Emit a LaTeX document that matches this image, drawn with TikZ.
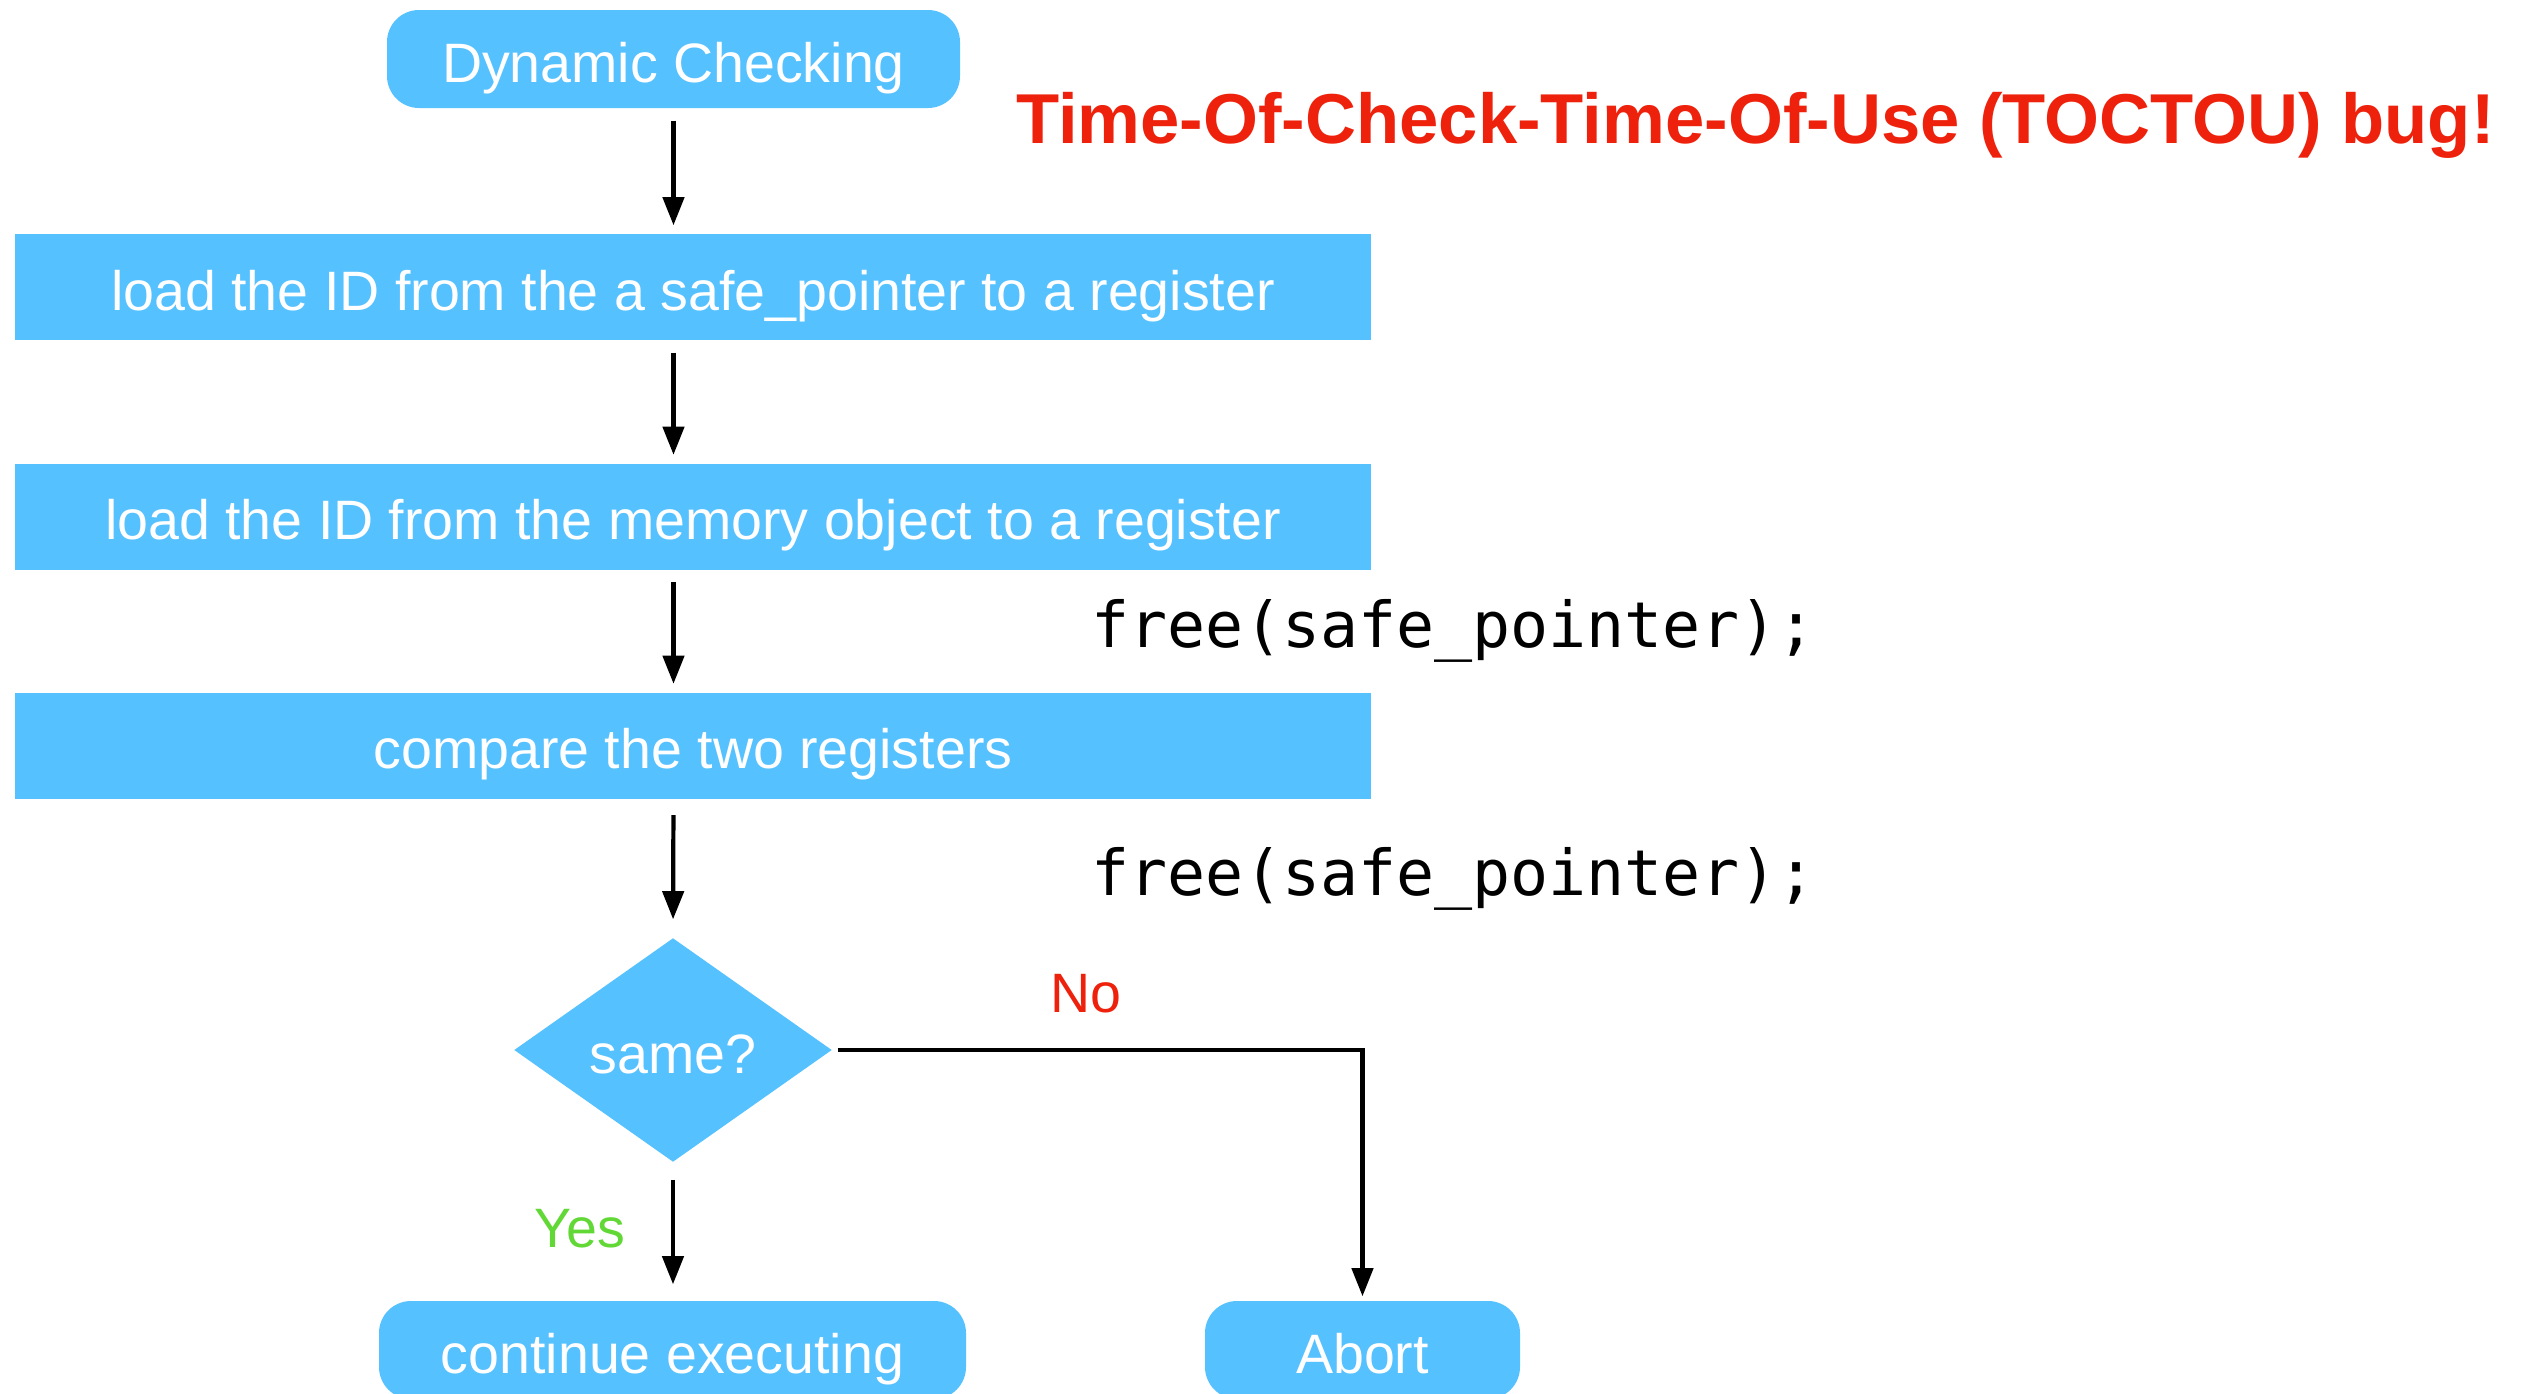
\documentclass[tikz,border=0pt]{standalone}
\usepackage{fontspec}
\setmainfont{Liberation Sans}
\setmonofont{DejaVu Sans Mono}
\usetikzlibrary{shapes.geometric,arrows.meta}
\definecolor{boxblue}{RGB}{86,193,255}
\definecolor{bugred}{RGB}{238,34,12}
\definecolor{yesgreen}{RGB}{97,216,54}

\begin{document}
\begin{tikzpicture}[
  box/.style={fill=boxblue, text=white, font=\fontsize{15.8}{18}\selectfont,
    text height=0.46cm, text depth=0pt, inner sep=0pt},
  stepbox/.style={box, minimum width=13.56cm, minimum height=1.06cm},
  endbox/.style={box, rounded corners=0.32cm, minimum height=0.98cm},
  flow/.style={-{Triangle[length=8pt,width=6pt]}, line width=1.2pt,
    shorten <=0.12cm, shorten >=0.08cm},
  code/.style={font=\ttfamily\fontsize{18}{21}\selectfont, anchor=base west, inner sep=0pt},
  answer/.style={font=\fontsize{15.8}{18}\selectfont, anchor=base, inner sep=0pt}
]
\useasboundingbox (0,0) rectangle (25.30,-13.94);

% flow chart boxes
\node[endbox, minimum width=5.73cm] (check) at (6.735,-0.59) {Dynamic Checking};
\node[stepbox] (loadptr) at (6.93,-2.87) {load the ID from the a safe\_pointer to a register};
\node[stepbox] (loadobj) at (6.93,-5.165) {load the ID from the memory object to a register};
\node[stepbox] (cmp) at (6.93,-7.455) {compare the two registers};
\node[box, diamond, minimum width=3.18cm, minimum height=2.24cm] (same) at (6.73,-10.50) {same?};
\node[endbox, minimum width=5.87cm] (cont) at (6.725,-13.50) {continue executing};
\node[endbox, minimum width=3.15cm] (abort) at (13.625,-13.50) {Abort};

% arrows down the left column
\draw[flow] (check.south) -- (check.south |- loadptr.north);
\draw[flow] (check.south |- loadptr.south) -- (check.south |- loadobj.north);
\draw[flow] (check.south |- loadobj.south) -- (check.south |- cmp.north);
\draw[flow, shorten <=0.16cm, shorten >=0.18cm] (check.south |- cmp.south) -- (same.north);
\draw[flow, shorten <=0.17cm, shorten >=0.16cm] (same.south) -- (same.south |- cont.north);
\draw[flow, shorten <=0.05cm, shorten >=0.04cm] (same.east) -| (abort.north);

% branch labels
\node[answer, text=bugred] (no) at (10.86,-10.12) {No};
\node[answer, text=yesgreen] (yes) at (5.80,-12.47) {Yes};

% the two frees
\node[code] (free1) at (10.91,-6.47) {free(safe\_pointer);};
\node[code] (free2) at (10.91,-8.95) {free(safe\_pointer);};

% title
\node[anchor=base, inner sep=0pt, text=bugred, font=\bfseries\fontsize{20.1}{24}\selectfont]
  (bug) at (17.555,-1.43) {Time-Of-Check-Time-Of-Use (TOCTOU) bug!};
\end{tikzpicture}
\end{document}
